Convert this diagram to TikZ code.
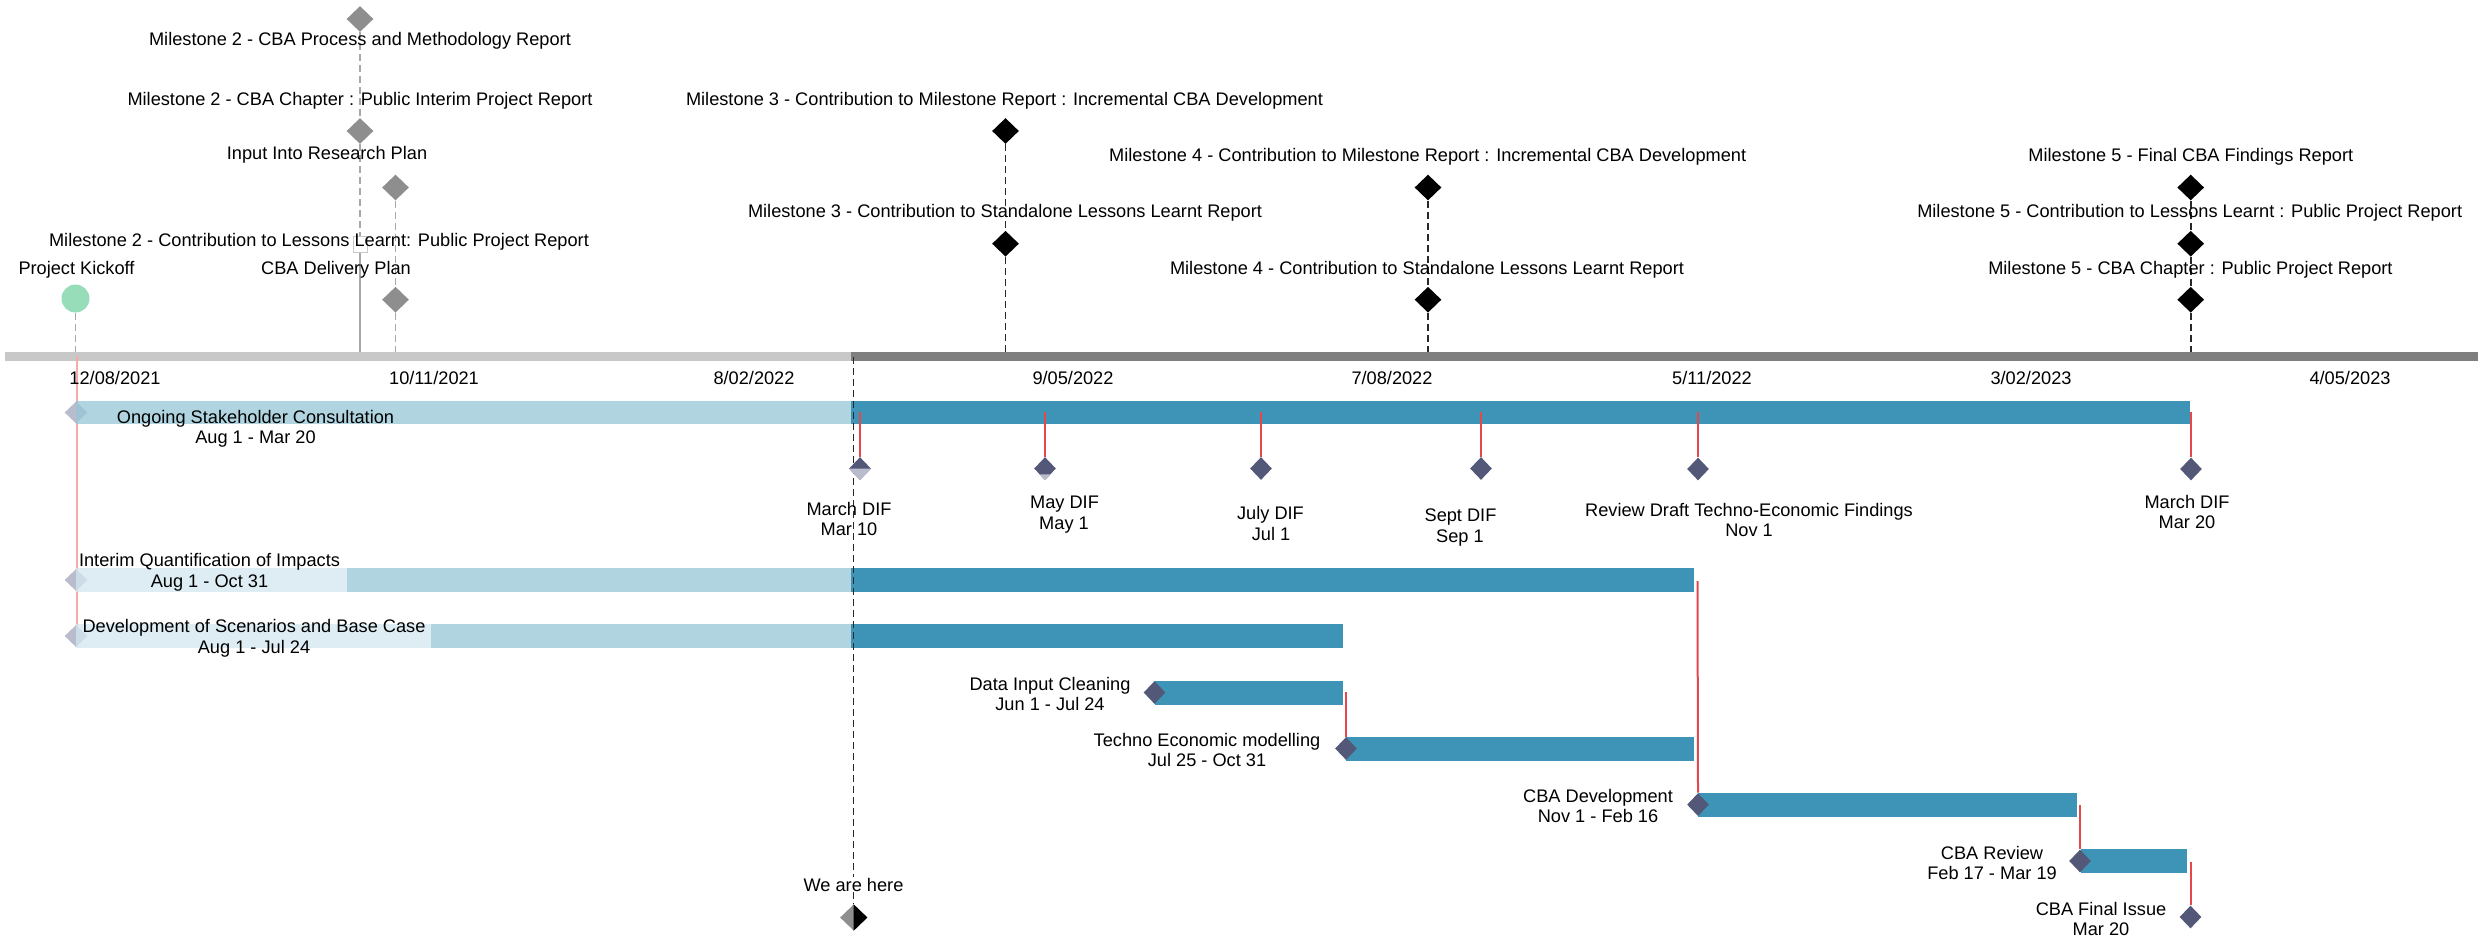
\documentclass[tikz,border=0pt]{standalone}
\usepackage{fontspec}
\setmainfont{Liberation Sans}
\usetikzlibrary{shapes.geometric,calc}

\definecolor{axislight}{RGB}{200,200,200}
\definecolor{axisdark}{RGB}{127,127,127}
\definecolor{bardark}{RGB}{62,148,182}
\definecolor{barlight}{RGB}{176,213,225}
\definecolor{barpale}{RGB}{222,237,243}
\definecolor{barlightT}{RGB}{150,199,215}
\definecolor{barpaleT}{RGB}{211,231,239}
\definecolor{taskmark}{RGB}{84,88,120}
\definecolor{ghostmark}{RGB}{185,188,204}
\definecolor{linkred}{RGB}{229,72,74}
\definecolor{palered}{RGB}{246,171,171}
\definecolor{kickoff}{RGB}{152,221,185}
\definecolor{graymark}{RGB}{142,142,142}
\definecolor{graydash}{RGB}{168,168,168}
\definecolor{darkdash}{RGB}{40,40,40}

\pgfdeclarelayer{bars}
\pgfdeclarelayer{links}
\pgfsetlayers{bars,links,main}

\begin{document}
\begin{tikzpicture}[x=0.5pt,y=-0.5pt,
  font=\fontsize{9.1pt}{10pt}\selectfont,
  lbl/.style={anchor=base,inner sep=0pt,text=black},
  mstone/.style={diamond,fill=black,inner sep=0pt,minimum width=13.5pt,minimum height=13pt},
  gstone/.style={mstone,fill=graymark},
  tmark/.style={diamond,fill=taskmark,inner sep=0pt,minimum width=11pt,minimum height=11.5pt},
  ghost/.style={diamond,fill=ghostmark,inner sep=0pt,minimum width=11.5pt,minimum height=11pt},
  redlink/.style={draw=linkred,line width=1pt},
  blackdash/.style={draw=darkdash,line width=0.9pt,dash pattern=on 3.5pt off 2pt},
  graydashed/.style={draw=graydash,line width=0.9pt,dash pattern=on 3.5pt off 2pt},
]
\useasboundingbox (0,0) rectangle (2478,938);

% ---------- time axis and task bars ----------
\begin{pgfonlayer}{bars}
  \fill[axislight] (5,352) rectangle (851,361);
  \fill[axisdark] (851,352) rectangle (2478,361);
  \coordinate (kickAx) at (76.5,356);
  \coordinate (kickEnd) at (76.5,647);
  \draw[palered,line width=1pt] (kickAx) -- (kickEnd);
  % Ongoing Stakeholder Consultation
  \node[ghost] (osMark) at (76,412.5) {};
  \fill[barlightT,fill opacity=0.75] (76,401) rectangle (851,424);
  \fill[bardark] (851,401) rectangle (2190,424);
  % Interim Quantification of Impacts
  \node[ghost] (iqMark) at (76,580) {};
  \fill[barpaleT,fill opacity=0.75] (76,568) rectangle (347,592);
  \fill[barlight] (347,568) rectangle (851,592);
  \fill[bardark] (851,568) rectangle (1694,592);
  % Development of Scenarios and Base Case
  \node[ghost] (dsMark) at (76,636) {};
  \fill[barpaleT,fill opacity=0.75] (76,624) rectangle (431,648);
  \fill[barlight] (431,624) rectangle (851,648);
  \fill[bardark] (851,624) rectangle (1342.5,648);
  % later tasks
  \fill[bardark] (1155,681) rectangle (1342.5,705);
  \fill[bardark] (1346,737) rectangle (1694,761);
  \fill[bardark] (1697.5,793) rectangle (2077,817);
  \fill[bardark] (2080.5,849) rectangle (2187,873);
\end{pgfonlayer}

% ---------- date labels ----------
\node[lbl] (d1) at (115,384) {12/08/2021};
\node[lbl] (d2) at (434,384) {10/11/2021};
\node[lbl] (d3) at (754,384) {8/02/2022};
\node[lbl] (d4) at (1073,384) {9/05/2022};
\node[lbl] (d5) at (1392,384) {7/08/2022};
\node[lbl] (d6) at (1712,384) {5/11/2022};
\node[lbl] (d7) at (2031,384) {3/02/2023};
\node[lbl] (d8) at (2350,384) {4/05/2023};

% ---------- milestones above the axis ----------
\node[gstone] (msA) at (360,19) {};
\node[gstone] (msB) at (360,131) {};
\node[gstone] (msC) at (395.5,187.5) {};
\node[gstone] (msD) at (395.5,299.7) {};
\node[draw=axislight,fill=white,line width=0.5pt,inner sep=0pt,minimum width=7pt,minimum height=8pt] (handle) at (360,244) {};
\node[circle,fill=kickoff,inner sep=0pt,minimum size=14pt] (kick) at (75.5,298.5) {};

\node[mstone] (m3a) at (1005.5,131) {};
\node[mstone] (m3b) at (1005.5,243.7) {};
\node[mstone] (m4a) at (1428,187.5) {};
\node[mstone] (m4b) at (1428,299.7) {};
\node[mstone] (m5a) at (2190.7,187.5) {};
\node[mstone] (m5b) at (2190.7,243.7) {};
\node[mstone] (m5c) at (2190.7,299.7) {};

\coordinate (ax76) at (75.5,352);
\coordinate (ax360) at (360,352);
\coordinate (ax395) at (395.5,352);
\coordinate (ax1005) at (1005.5,352);
\coordinate (ax1428) at (1428,352);
\coordinate (ax2190) at (2190.7,352);

\node[lbl] (m2procLbl) at (360,45) {Milestone 2 - CBA Process and Methodology Report};
\node[lbl] (m2chapLbl) at (360,105) {Milestone 2 - CBA Chapter : Public Interim Project Report};
\node[lbl] (inputLbl) at (327,159) {Input Into Research Plan};
\node[lbl] (m2lessLbl) at (319,246) {Milestone 2 - Contribution to Lessons Learnt: Public Project Report};
\node[lbl] (kickLbl) at (76.5,274) {Project Kickoff};
\node[lbl] (delivLbl) at (336,274) {CBA Delivery Plan};
\node[lbl] (m3mrLbl) at (1004.5,105) {Milestone 3 - Contribution to Milestone Report : Incremental CBA Development};
\node[lbl] (m3llLbl) at (1005,217.5) {Milestone 3 - Contribution to Standalone Lessons Learnt Report};
\node[lbl] (m4mrLbl) at (1427.7,161) {Milestone 4 - Contribution to Milestone Report : Incremental CBA Development};
\node[lbl] (m4llLbl) at (1427,274) {Milestone 4 - Contribution to Standalone Lessons Learnt Report};
\node[lbl] (m5finLbl) at (2190.8,161) {Milestone 5 - Final CBA Findings Report};
\node[lbl] (m5llLbl) at (2189.7,217.5) {Milestone 5 - Contribution to Lessons Learnt : Public Project Report};
\node[lbl] (m5chapLbl) at (2190.4,274) {Milestone 5 - CBA Chapter : Public Project Report};

% ---------- task labels ----------
\node[lbl] (osName) at (255.5,423) {Ongoing Stakeholder Consultation};
\node[lbl] (osDate) at (255.5,443) {Aug 1 - Mar 20};
\node[lbl] (iqName) at (209.5,566) {Interim Quantification of Impacts};
\node[lbl] (iqDate) at (209.5,587) {Aug 1 - Oct 31};
\node[lbl] (dsName) at (254,632) {Development of Scenarios and Base Case};
\node[lbl] (dsDate) at (254,653) {Aug 1 - Jul 24};
\node[lbl] (diName) at (1050,690) {Data Input Cleaning};
\node[lbl] (diDate) at (1050,710) {Jun 1 - Jul 24};
\node[lbl] (teName) at (1207,746) {Techno Economic modelling};
\node[lbl] (teDate) at (1207,766) {Jul 25 - Oct 31};
\node[lbl] (cdName) at (1598,802) {CBA Development};
\node[lbl] (cdDate) at (1598,822) {Nov 1 - Feb 16};
\node[lbl] (crName) at (1992,859) {CBA Review};
\node[lbl] (crDate) at (1992,879) {Feb 17 - Mar 19};
\node[lbl] (fiName) at (2101,915.5) {CBA Final Issue};
\node[lbl] (fiDate) at (2101,935.5) {Mar 20};

% ---------- DIF milestones ----------
\node[tmark] (difA) at (860,468.5) {};
\fill[ghostmark] (difA.west) -- (difA.east) -- (difA.south) -- cycle;
\node[tmark] (difB) at (1045,468.5) {};
\fill[ghostmark] ($(difB.south)!0.5!(difB.west)$) -- ($(difB.south)!0.5!(difB.east)$) -- (difB.south) -- cycle;
\node[tmark] (difC) at (1261,468.5) {};
\node[tmark] (difD) at (1481,468.5) {};
\node[tmark] (difE) at (1698,469) {};
\node[tmark] (difF) at (2191,469) {};

\node[lbl] (difAName) at (849,515) {March DIF};
\node[lbl] (difADate) at (849,535) {Mar 10};
\node[lbl] (difBName) at (1064.5,508) {May DIF};
\node[lbl] (difBDate) at (1064,529) {May 1};
\node[lbl] (difCName) at (1270.5,519) {July DIF};
\node[lbl] (difCDate) at (1271,540) {Jul 1};
\node[lbl] (difDName) at (1460.5,521.5) {Sept DIF};
\node[lbl] (difDDate) at (1460,542.5) {Sep 1};
\node[lbl] (difEName) at (1749,516.5) {Review Draft Techno-Economic Findings};
\node[lbl] (difEDate) at (1749,536.5) {Nov 1};
\node[lbl] (difFName) at (2187,508) {March DIF};
\node[lbl] (difFDate) at (2187,528) {Mar 20};

% ---------- task start markers ----------
\node[tmark] (diMark) at (1154.5,692.5) {};
\node[tmark] (teMark) at (1346,748.5) {};
\node[tmark] (cdMark) at (1698,804.6) {};
\node[tmark] (crMark) at (2080,861) {};
\node[tmark] (fiMark) at (2190.5,917) {};

% ---------- today marker ----------
\node[mstone,fill=graymark] (here) at (853.5,917.5) {};
\fill[black] (here.north) -- (here.east) -- (here.south) -- cycle;
\node[lbl] (hereLbl) at (853.5,891) {We are here};
\coordinate (todayTop) at (853.5,357);

% ---------- connectors ----------
\coordinate (osA) at (860,412);
\coordinate (osB) at (1045,412);
\coordinate (osC) at (1261,412);
\coordinate (osD) at (1481,412);
\coordinate (osE) at (1698,412);
\coordinate (osF) at (2191,412);
\coordinate (iqEnd) at (1697.5,581);
\coordinate (diEnd) at (1346,692);
\coordinate (cdEnd) at (2080,805);
\coordinate (crEnd) at (2190.5,861.5);

\begin{pgfonlayer}{links}
  \draw[graydashed] (msA) -- (msB) -- (handle);
  \draw[draw=graydash,line width=0.9pt] (handle) -- (ax360);
  \draw[graydashed] (msC) -- (msD) -- (ax395);
  \draw[graydashed] (kick) -- (ax76);
  \draw[blackdash] (m3a) -- (m3b) -- (ax1005);
  \draw[blackdash] (m4a) -- (m4b) -- (ax1428);
  \draw[blackdash] (m5a) -- (m5b) -- (m5c) -- (ax2190);
  \draw[blackdash] (todayTop) -- (hereLbl.north);
  \draw[blackdash] (hereLbl.south) -- (here.north);
  \draw[redlink] (osA) -- (difA.north);
  \draw[redlink] (osB) -- (difB.north);
  \draw[redlink] (osC) -- (difC.north);
  \draw[redlink] (osD) -- (difD.north);
  \draw[redlink] (osE) -- (difE.north);
  \draw[redlink] (osF) -- (difF.north);
  \draw[redlink] (iqEnd) -- (cdMark.north);
  \draw[redlink] (diEnd) -- (teMark.north);
  \draw[redlink] (cdEnd) -- (crMark.north);
  \draw[redlink] (crEnd) -- (fiMark.north);
\end{pgfonlayer}
\end{tikzpicture}
\end{document}
